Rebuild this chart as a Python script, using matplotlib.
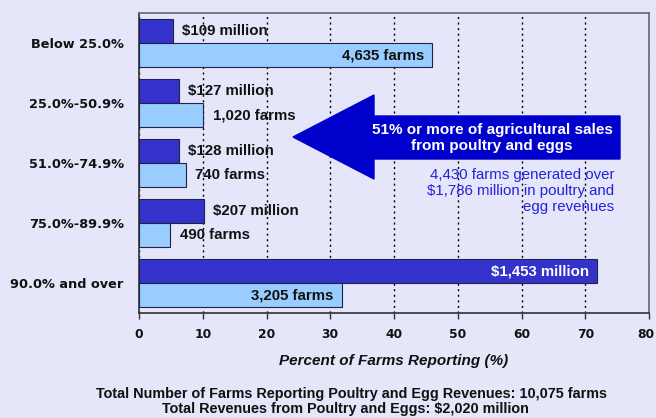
import matplotlib.pyplot as plt
import matplotlib.transforms as mtransforms
from matplotlib.patches import Polygon

# ── Data ──────────────────────────────────────────────────────────────────────
categories = ['Below 25.0%', '25.0%-50.9%', '51.0%-74.9%', '75.0%-89.9%', '90.0% and over']
revenue_pct = [5.4, 6.3, 6.3, 10.2, 71.9]
farms_pct = [46.0, 10.1, 7.3, 4.9, 31.8]
revenue_labels = ['$109 million', '$127 million', '$128 million', '$207 million', '$1,453 million']
farms_labels = ['4,635 farms', '1,020 farms', '740 farms', '490 farms', '3,205 farms']
x_ticks = [0, 10, 20, 30, 40, 50, 60, 70, 80]

# ── Style ─────────────────────────────────────────────────────────────────────
BG = '#E6E6FA'
C_DARK = '#3333CC'
C_LIGHT = '#99CCFF'
C_ARROW = '#0000CC'
C_NOTE = '#2222DD'
FONT = 'Liberation Sans'
W, H = 656, 418

fig = plt.figure(figsize=(W / 100, H / 100), dpi=100, facecolor=BG)
ax = fig.add_axes([139 / W, 1 - 313 / H, 510 / W, 300 / H])
ax.set_facecolor(BG)

# ── Bars ──────────────────────────────────────────────────────────────────────
ypos = list(range(len(categories)))
ax.barh([y - 0.2 for y in ypos], revenue_pct, height=0.4, color=C_DARK,
        edgecolor='#222244', lw=0.8, zorder=3)
ax.barh([y + 0.2 for y in ypos], farms_pct, height=0.4, color=C_LIGHT,
        edgecolor='#222244', lw=0.8, zorder=3)

for y, v, lab in zip(ypos, revenue_pct, revenue_labels):
    if v > 25:
        ax.annotate(lab, (v, y - 0.2), xytext=(-6, 0), textcoords='offset points',
                    ha='right', va='center', color='white', fontsize=10.8,
                    fontweight='bold', family=FONT, zorder=5)
    else:
        ax.annotate(lab, (v, y - 0.2), xytext=(6.5, 0), textcoords='offset points',
                    ha='left', va='center', color='#111111', fontsize=10.8,
                    fontweight='bold', family=FONT, zorder=5)

for y, v, lab in zip(ypos, farms_pct, farms_labels):
    if v > 25:
        ax.annotate(lab, (v, y + 0.2), xytext=(-6, 0), textcoords='offset points',
                    ha='right', va='center', color='#111111', fontsize=10.8,
                    fontweight='bold', family=FONT, zorder=5)
    else:
        ax.annotate(lab, (v, y + 0.2), xytext=(7, 0), textcoords='offset points',
                    ha='left', va='center', color='#111111', fontsize=10.8,
                    fontweight='bold', family=FONT, zorder=5)

# ── Axes ──────────────────────────────────────────────────────────────────────
ax.set_xlim(0, 80)
ax.set_ylim(len(categories) - 0.5, -0.5)
ax.set_yticks(ypos)
ax.set_yticklabels(categories, fontsize=9.3, fontweight='bold', family='DejaVu Sans',
                   color='#111111')
ax.tick_params(axis='y', length=0, pad=11)
ax.set_xticks(x_ticks)
ax.set_xticklabels([str(t) for t in x_ticks], fontsize=8.8, fontweight='bold',
                   family='DejaVu Sans', color='#111111')
ax.tick_params(axis='x', length=4, width=1, pad=7, color='#333333')
# last label sits right at the figure edge; nudge it in a little
last = ax.get_xticklabels()[-1]
last.set_transform(last.get_transform() +
                   mtransforms.ScaledTranslation(-3 / 100, 0, fig.dpi_scale_trans))
ax.grid(axis='x', color='black', ls=(0, (1.5, 2.5)), lw=1, zorder=1)
for side in ['left', 'bottom']:
    ax.spines[side].set_color('#333333')
    ax.spines[side].set_linewidth(1.2)
for side in ['top', 'right']:
    ax.spines[side].set_color('#666677')
    ax.spines[side].set_linewidth(1.2)

ax.set_xlabel('Percent of Farms Reporting (%)', fontsize=11, fontweight='bold',
              fontstyle='italic', family=FONT, color='#111111', labelpad=9)

# ── Arrow callout (figure pixel coords) ───────────────────────────────────────
def px(x, y):
    return (x / W, 1 - y / H)

arrow_pts = [px(293, 137), px(374, 95), px(374, 116), px(620, 116),
             px(620, 159), px(374, 159), px(374, 179)]
fig.patches.append(Polygon(arrow_pts, closed=True, color=C_ARROW,
                           transform=fig.transFigure, zorder=10))
fig.text(*px(492, 138), '51% or more of agricultural sales\nfrom poultry and eggs',
         ha='center', va='center', color='white', fontsize=11, fontweight='bold',
         family=FONT, linespacing=1.2, zorder=11)
fig.text(*px(614, 191), '4,430 farms generated over\n$1,786 million in poultry and\negg revenues',
         ha='right', va='center', color=C_NOTE, fontsize=10.8, family=FONT,
         linespacing=1.22, zorder=11)

# ── Footer ────────────────────────────────────────────────────────────────────
fig.text(*px(352, 394), 'Total Number of Farms Reporting Poultry and Egg Revenues: 10,075 farms',
         ha='center', va='center', fontsize=10.4, fontweight='bold', family=FONT, color='#111111')
fig.text(*px(345, 409), 'Total Revenues from Poultry and Eggs: $2,020 million',
         ha='center', va='center', fontsize=10.4, fontweight='bold', family=FONT, color='#111111')

plt.savefig('out.png', dpi=100, facecolor=BG)
